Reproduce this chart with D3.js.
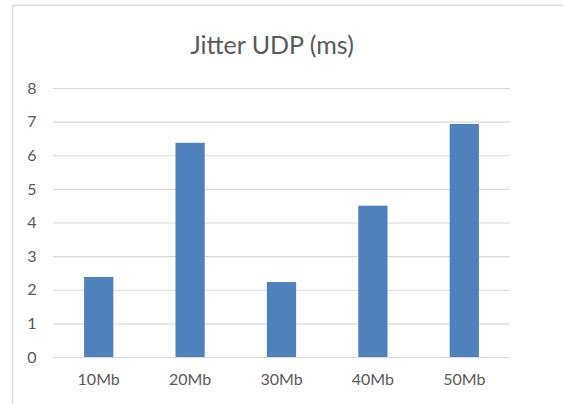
<!DOCTYPE html>
<html>
<head>
<meta charset="utf-8">
<script src="https://cdn.jsdelivr.net/npm/d3@7"></script>
<style>
  body { margin: 0; background: #fff; }
  svg text { font-family: Lato, "Open Sans", sans-serif; fill: #595959; }
</style>
</head>
<body>
<div id="chart"></div>
<script>
// Chart data
var categories = ["10Mb", "20Mb", "30Mb", "40Mb", "50Mb"];
var jitterValues = [2.38, 6.37, 2.23, 4.5, 6.93];
var yTicks = [0, 1, 2, 3, 4, 5, 6, 7, 8];
var chartTitle = "Jitter UDP (ms)";

var svgWidth = 563;
var svgHeight = 404;

var margin = { top: 88, right: 53, bottom: 47, left: 53 };
var chartWidth = svgWidth - margin.left - margin.right;
var chartHeight = 357 - margin.top;

var svg = d3.select("#chart")
    .append("svg")
    .attr("width", svgWidth)
    .attr("height", svgHeight);

// chart area border (left + top visible)
svg.append("path")
    .attr("d", "M12.5,404 L12.5,5.5 L563,5.5")
    .attr("fill", "none")
    .attr("stroke", "#d9d9d9")
    .attr("stroke-width", 1.5);

svg.append("text")
    .attr("x", 272)
    .attr("y", 54)
    .attr("text-anchor", "middle")
    .style("font-size", "25px")
    .text(chartTitle);

var chartGroup = svg.append("g")
    .attr("transform", `translate(${margin.left}, ${margin.top})`);

var xScale = d3.scaleBand()
    .domain(categories)
    .range([0, chartWidth])
    .paddingInner(0.68)
    .paddingOuter(0.34);

var yScale = d3.scaleLinear()
    .domain([0, 8])
    .range([chartHeight, 0]);

// gridlines
chartGroup.append("g")
    .call(d3.axisLeft(yScale).tickValues(yTicks).tickSize(-chartWidth).tickFormat(""))
    .call(g => g.select(".domain").remove())
    .selectAll("line")
    .attr("stroke", "#d9d9d9")
    .attr("stroke-width", 1.2);

// y labels
chartGroup.append("g")
    .call(d3.axisLeft(yScale).tickValues(yTicks).tickSize(0).tickPadding(17))
    .call(g => g.select(".domain").remove())
    .selectAll("text")
    .style("font-size", "16px")
    .attr("text-anchor", "middle")
    .attr("dx", "-4");

// x labels
chartGroup.append("g")
    .attr("transform", "translate(0, " + chartHeight + ")")
    .call(d3.axisBottom(xScale).tickSize(0).tickPadding(17))
    .call(g => g.select(".domain").remove())
    .selectAll("text")
    .style("font-size", "16px");

chartGroup.selectAll("rect.bar")
    .data(jitterValues)
    .enter()
    .append("rect")
    .attr("class", "bar")
    .attr("x", (d, i) => xScale(categories[i]))
    .attr("y", d => yScale(d))
    .attr("width", xScale.bandwidth())
    .attr("height", d => chartHeight - yScale(d))
    .attr("fill", "#4f81bd");
</script>
</body>
</html>
